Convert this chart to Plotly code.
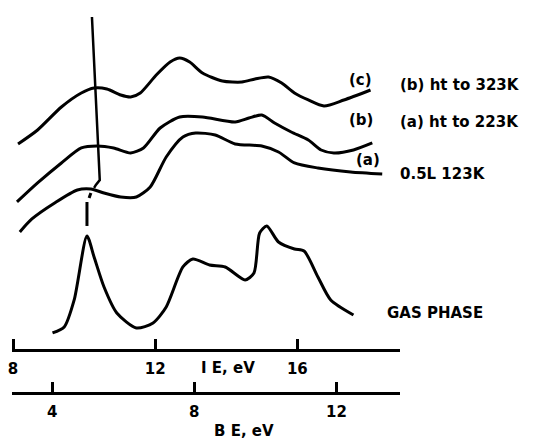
import plotly.graph_objects as go

# Ionisation energy (IE, eV) sample positions and stacked intensities (a.u.)
gas_ie = [9.11, 9.44, 9.72, 10.08, 10.28, 10.56, 10.92, 11.47, 11.94, 12.31, 12.78, 13.06,
          13.53, 13.97, 14.53, 14.78, 14.94, 15.14, 15.47, 15.92, 16.19, 16.58, 16.94, 17.58]
gas_int = [1.6, 2.2, 4.9, 11.3, 9.2, 6.2, 3.6, 2.1, 2.6, 4.2, 8.2, 9.0,
           8.4, 8.2, 6.9, 7.6, 11.6, 12.3, 10.7, 10.0, 9.8, 7.2, 4.9, 3.4]

a_ie = [8.19, 8.53, 9.17, 9.81, 10.19, 10.56, 11.03, 11.47, 11.86, 12.31, 12.78, 13.14,
        13.69, 14.25, 15.0, 15.47, 15.92, 16.58, 17.5, 18.39]
a_int = [11.7, 13.0, 14.6, 15.9, 16.0, 15.6, 15.2, 15.2, 16.2, 19.2, 21.2, 21.6,
         21.4, 20.5, 20.3, 19.7, 18.6, 18.1, 17.7, 17.5]

b_ie = [8.11, 8.69, 9.36, 9.92, 10.36, 10.83, 11.31, 11.67, 12.14, 12.69, 13.33, 14.25,
        14.64, 15.0, 15.36, 15.83, 16.31, 16.67, 17.03, 17.58, 18.11]
b_int = [14.7, 16.6, 18.6, 20.1, 20.3, 20.1, 19.6, 20.1, 22.1, 23.2, 23.2, 22.7,
         23.1, 23.4, 22.6, 21.7, 20.9, 19.9, 19.6, 19.9, 20.6]

c_ie = [8.14, 8.69, 9.36, 9.92, 10.28, 10.64, 11.03, 11.31, 11.58, 12.03, 12.42, 12.69,
        12.97, 13.33, 13.89, 14.44, 14.81, 15.19, 15.56, 15.92, 16.31, 16.75, 17.31, 18.06]
c_int = [20.5, 21.9, 24.2, 25.6, 26.1, 26.0, 25.4, 25.2, 25.6, 27.4, 28.7, 29.1,
         28.7, 27.6, 26.8, 26.7, 27.0, 27.2, 26.6, 25.6, 24.9, 24.3, 24.9, 25.9]

# Reference marker line through the first band
ref_ie = [10.22, 10.44, 10.33, 10.28]
ref_int = [33.2, 16.9, 16.4, 16.1]
ref_dash_ie = [10.19, 10.14, None, 10.08, 10.08]
ref_dash_int = [15.6, 15.1, None, 14.7, 12.3]

ie_ticks = [8, 12, 16]
be_ticks = [4, 8, 12]
be_offset = 5.1  # BE = IE - offset

curve_labels = ["(c)", "(b)", "(a)"]
curve_notes = ["(b) ht to 323K", "(a) ht to 223K", "0.5L 123K"]

FONT = dict(family="DejaVu Sans", size=15, color="black", weight="bold")
LINE = dict(color="black", width=3, shape="spline", smoothing=0.7)

fig = go.Figure()
for xs, ys in [(gas_ie, gas_int), (a_ie, a_int), (b_ie, b_int), (c_ie, c_int)]:
    fig.add_trace(go.Scatter(x=xs, y=ys, mode="lines", line=LINE, showlegend=False,
                             hoverinfo="skip"))
fig.add_trace(go.Scatter(x=ref_ie, y=ref_int, mode="lines",
                         line=dict(color="black", width=2.5), showlegend=False))
fig.add_trace(go.Scatter(x=ref_dash_ie, y=ref_dash_int, mode="lines",
                         line=dict(color="black", width=3), showlegend=False,
                         connectgaps=False))

ie_range = [7.97, 18.89]
fig.update_layout(
    width=537, height=442,
    margin=dict(l=8, r=137, t=10, b=49),
    paper_bgcolor="white", plot_bgcolor="white",
    font=FONT,
    xaxis=dict(range=ie_range, tickvals=ie_ticks, ticks="inside", ticklen=10,
               tickwidth=2.5, tickcolor="black", showline=True, linewidth=3,
               linecolor="black", showgrid=False, zeroline=False, anchor="y",
               tickfont=FONT, ticklabelstandoff=4),
    xaxis2=dict(range=[ie_range[0] - be_offset, ie_range[1] - be_offset],
                tickvals=be_ticks, ticks="inside", ticklen=10, tickwidth=2.5,
                tickcolor="black", showline=True, linewidth=3, linecolor="black",
                showgrid=False, zeroline=False, anchor="free", position=0,
                overlaying="x", side="bottom", tickfont=FONT, ticklabelstandoff=4),
    yaxis=dict(range=[0, 33.9], domain=[0.115, 1], visible=False),
)
# dummy trace to activate xaxis2
fig.add_trace(go.Scatter(x=[None], y=[None], xaxis="x2", showlegend=False))

label_y = [26.9, 22.9, 18.9]
note_y = [26.4, 22.7, 17.5]
label_x = [17.78, 17.78, 18.0]
for lab, note, ly, ny, lx in zip(curve_labels, curve_notes, label_y, note_y, label_x):
    fig.add_annotation(x=lx, y=ly, xref="x", yref="y", text=lab, showarrow=False,
                       font=FONT)
    fig.add_annotation(x=18.83, y=ny, xref="x", yref="y", text=note, showarrow=False,
                       xanchor="left", font=FONT)
fig.add_annotation(x=18.47, y=3.6, xref="x", yref="y", text="GAS PHASE",
                   showarrow=False, xanchor="left", font=FONT)
fig.add_annotation(x=0.556, y=0.065, xref="paper", yref="paper", text="I E, eV",
                   showarrow=False, yanchor="middle", font=FONT)
fig.add_annotation(x=0.599, y=-0.099, xref="paper", yref="paper", text="B E, eV",
                   showarrow=False, yanchor="middle", font=FONT)

fig.write_html("out.html")
